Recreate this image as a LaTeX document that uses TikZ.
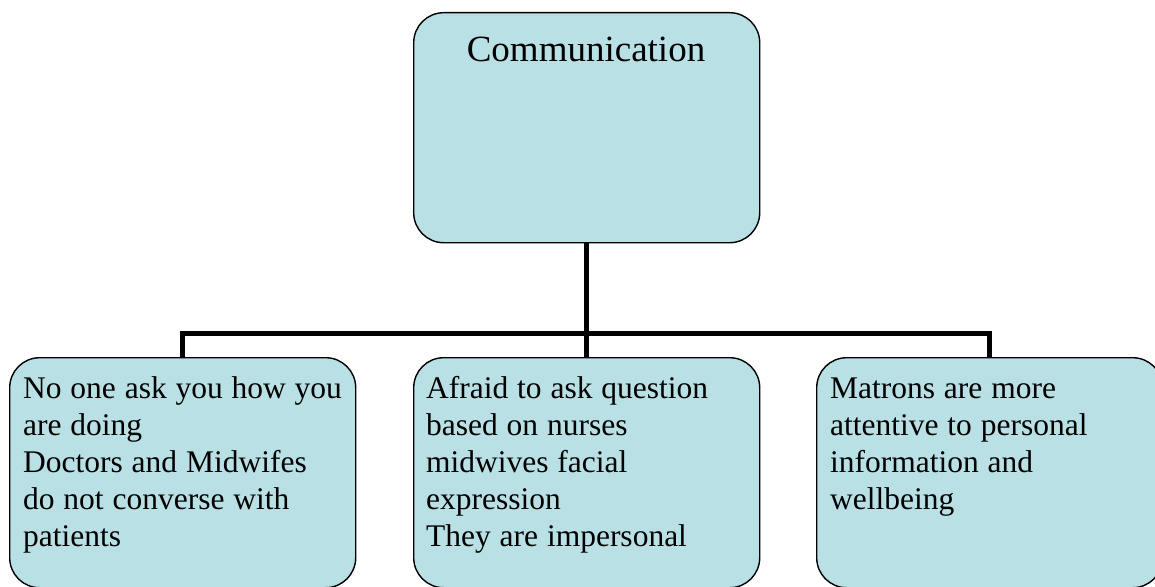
\documentclass[tikz,border=0pt]{standalone}
\usepackage{fontspec}
\setmainfont{Liberation Serif}
\definecolor{boxfill}{RGB}{185,224,228}
\newcommand\mytightspace{\spaceskip=0.28em plus 0.05em minus 0.02em\relax}
\begin{document}
\begin{tikzpicture}[x=1pt,y=-1pt,
  card/.style={draw=black, line width=1.4pt, fill=boxfill, rounded corners=30pt,
    minimum width=346pt, minimum height=230pt, inner sep=0pt, anchor=north west},
  conn/.style={draw=black, line width=5pt},
  boxtext/.style={anchor=base west, align=left, inner sep=0pt, text width=335pt,
    font=\fontsize{31.5}{37}\selectfont},
  titletext/.style={anchor=base, inner sep=0pt, font=\fontsize{37}{44}\selectfont}
]
\useasboundingbox (0,0) rectangle (1155,586);
\clip (0,0) rectangle (1155,586);
\coordinate (bus) at (586,333);
\node[card] (top) at (413,12) {};
\node[card] (left) at (9,357) {};
\node[card] (mid) at (413,357) {};
\node[card] (right) at (816,357) {};
\draw[conn] (top.south) -- (mid.north);
\draw[conn] (left.north) |- (bus) -| (right.north);
\node[titletext] (ttop) at (586,61) {Communication};
\node[boxtext] (tleft) at (23,398) {\mytightspace No one ask you how you\\are doing\\Doctors and Midwifes\\do not converse with\\patients};
\node[boxtext] (tmid) at (426,398) {\mytightspace Afraid to ask question\\based on nurses\\midwives facial\\expression\\They are impersonal};
\node[boxtext] (tright) at (830,398) {\mytightspace Matrons are more\\attentive to personal\\information and\\wellbeing};
\end{tikzpicture}
\end{document}
